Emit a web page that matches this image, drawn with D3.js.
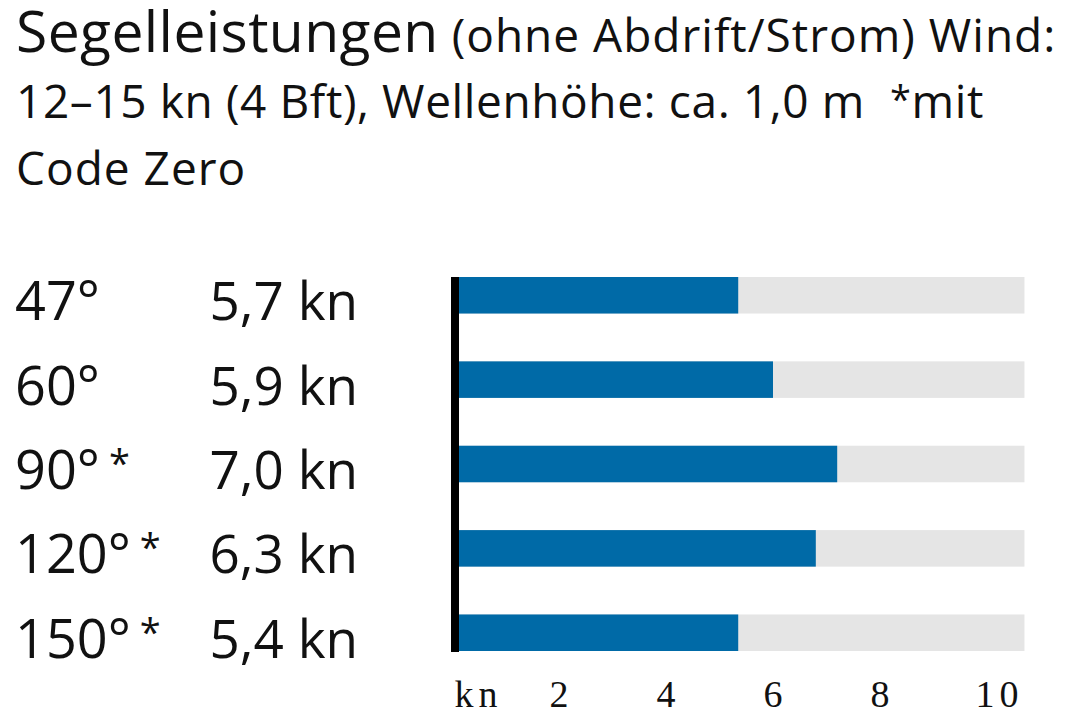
<!DOCTYPE html>
<html>
<head>
<meta charset="utf-8">
<script src="https://cdn.jsdelivr.net/npm/d3@7"></script>
<style>
  html, body { margin: 0; padding: 0; background: #fff; }
  svg { display: block; }
  .sans { font-family: "Open Sans", "Noto Sans", sans-serif; fill: #111; white-space: pre; }
  .ticks text { font-family: "Liberation Serif", "DejaVu Serif", serif; font-size: 38px; fill: #111; letter-spacing: 5px; }
</style>
</head>
<body>
<svg id="chart" width="1068" height="712"></svg>
<script>
// title lines
var titleMain = 'Segelleistungen';
var titleLines = [
  ' (ohne Abdrift/Strom) Wind:',
  '12–15 kn (4 Bft), Wellenhöhe: ca. 1,0 m  ',
  'Code Zero'
];

// rows: sailing angle, code zero marker, speed label, bar length
var angles = ['47°', '60°', '90°', '120°', '150°'];
var codeZero = [false, false, true, true, true];
var speedLabels = ['5,7 kn', '5,9 kn', '7,0 kn', '6,3 kn', '5,4 kn'];
var barValues = [5.35, 6.0, 7.2, 6.8, 5.35];
var trackMax = 10.7;

// axis ticks
var tickValues = [0, 2, 4, 6, 8, 10];
var tickLabels = ['kn', '2', '4', '6', '8', '10'];

var svg = d3.select('#chart');

var x = d3.scaleLinear().domain([0, 10]).range([452, 987]);
var y = d3.scaleBand().domain(angles).range([277, 651]).paddingInner(0.567).paddingOuter(0);

// header text
var t1 = svg.append('text').attr('class', 'sans').attr('x', 16).attr('y', 52);
t1.append('tspan').attr('font-size', 57).attr('letter-spacing', 0.4).text(titleMain);
t1.append('tspan').attr('font-size', 46).attr('letter-spacing', 1).text(titleLines[0]);

var t2 = svg.append('text').attr('class', 'sans').attr('x', 16).attr('y', 118)
  .attr('font-size', 46).attr('letter-spacing', 0.6);
t2.append('tspan').text(titleLines[1]);
t2.append('tspan').attr('font-size', 38).attr('dy', -5).text('*');
t2.append('tspan').attr('dy', 5).text('mit');

svg.append('text').attr('class', 'sans').attr('x', 16).attr('y', 185)
  .attr('font-size', 46).attr('letter-spacing', 1).text(titleLines[2]);

// grey tracks
svg.append('g').selectAll('rect')
  .data(angles)
  .enter()
  .append('rect')
  .attr('x', x(0))
  .attr('y', function (d) { return y(d); })
  .attr('width', x(trackMax) - x(0))
  .attr('height', y.bandwidth())
  .attr('fill', '#e5e5e5');

// blue bars
svg.append('g').selectAll('rect')
  .data(barValues)
  .enter()
  .append('rect')
  .attr('x', x(0))
  .attr('y', function (d, i) { return y(angles[i]); })
  .attr('width', function (d) { return x(d) - x(0); })
  .attr('height', y.bandwidth())
  .attr('fill', '#006aa7');

// black base line
svg.append('line')
  .attr('x1', x(0) + 3).attr('x2', x(0) + 3)
  .attr('y1', y.range()[0]).attr('y2', y.range()[1] + 1)
  .attr('stroke', '#000')
  .attr('stroke-width', 8);

// row labels
var rows = svg.append('g').selectAll('g')
  .data(angles)
  .enter()
  .append('g')
  .attr('transform', function (d) { return 'translate(0,' + (y(d) + y.bandwidth() / 2 + 25) + ')'; });

var angleText = rows.append('text').attr('class', 'sans').attr('x', 15).attr('font-size', 54);
angleText.append('tspan').text(function (d) { return d; });
angleText.append('tspan')
  .attr('font-size', 38).attr('dx', 9).attr('dy', -12)
  .text(function (d, i) { return codeZero[i] ? '*' : ''; });

rows.append('text').attr('class', 'sans')
  .attr('x', 358).attr('font-size', 53).attr('text-anchor', 'end')
  .text(function (d, i) { return speedLabels[i]; });

// bottom axis
var axis = d3.axisBottom(x)
  .tickValues(tickValues)
  .tickSize(0)
  .tickPadding(0)
  .tickFormat(function (d, i) { return tickLabels[i]; });

var gAxis = svg.append('g').attr('class', 'ticks').attr('transform', 'translate(0,707)').call(axis);
gAxis.select('.domain').remove();
gAxis.selectAll('text').attr('font-family', null).attr('font-size', null).attr('dy', 0).attr('dx', 2);
gAxis.selectAll('.tick').filter(function (d) { return d === 0; }).select('text')
  .attr('text-anchor', 'start').attr('dx', 2).attr('letter-spacing', 11);
gAxis.selectAll('.tick').filter(function (d) { return d === 10; }).select('text').attr('dx', 12);
</script>
</body>
</html>
